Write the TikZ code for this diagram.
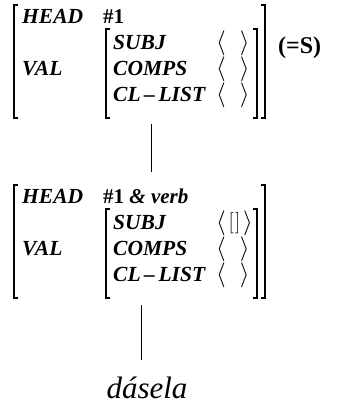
\documentclass[tikz,border=0pt]{standalone}
\usepackage{graphicx}
\usepackage{fontspec}
\setmainfont{Liberation Serif}
\begin{document}
\begin{tikzpicture}[x=1pt,y=-1pt,
  feat/.style={font=\fontsize{21.5}{21.5}\selectfont\bfseries\itshape, anchor=base west, inner sep=0pt},
  valtxt/.style={font=\fontsize{21}{21}\selectfont\bfseries, anchor=base west, inner sep=0pt},
  lst/.style={font=\fontsize{23}{23}\selectfont, anchor=base west, inner sep=0pt},
  brk/.style={line width=1.2pt},
  edge/.style={line width=0.9pt}]
\useasboundingbox (0,0) rectangle (353,407);
% ---------- top AVM ----------
\draw[brk] (18,5) -- (14,5) -- (14,118) -- (18,118);
\draw[brk] (261,5) -- (265,5) -- (265,118) -- (261,118);
\draw[brk] (110,29) -- (106,29) -- (106,118) -- (110,118);
\draw[brk] (253,29) -- (257,29) -- (257,118) -- (253,118);
\node[feat] (h1) at (22,23) {HEAD};
\node[valtxt] (n1) at (103,23) {\#1};
\node[feat] (v1) at (22,75) {VAL};
\node[feat] (s1) at (113,49) {SUBJ};
\node[feat] (c1) at (113,75) {COMPS};
\node[feat] (l1) at (113,101) {CL\,\textendash\,LIST};
\node[lst] (sv1) at (216,49) {$\langle\hspace{14pt}\rangle$};
\node[lst] (cv1) at (216,75) {$\langle\hspace{14pt}\rangle$};
\node[lst] (lv1) at (216,101) {$\langle\hspace{14pt}\rangle$};
\node[valtxt, font=\fontsize{24}{24}\selectfont\bfseries] (eq) at (278,53) {(=S)};
% ---------- bottom AVM ----------
\draw[brk] (18,185) -- (14,185) -- (14,298) -- (18,298);
\draw[brk] (261,185) -- (265,185) -- (265,298) -- (261,298);
\draw[brk] (110,209) -- (106,209) -- (106,298) -- (110,298);
\draw[brk] (253,209) -- (257,209) -- (257,298) -- (253,298);
\node[feat] (h2) at (22,203) {HEAD};
\node[valtxt] (n2) at (103,203) {\#1 \textit{\& verb}};
\node[feat] (v2) at (22,255) {VAL};
\node[feat] (s2) at (113,229) {SUBJ};
\node[feat] (c2) at (113,255) {COMPS};
\node[feat] (l2) at (113,281) {CL\,\textendash\,LIST};
\node[lst] (sv2) at (216,229) {$\langle\mkern2mu\vcenter{\hbox{\scalebox{0.85}{$[\mkern1mu]$}}}\mkern2mu\rangle$};
\node[lst] (cv2) at (216,255) {$\langle\hspace{14pt}\rangle$};
\node[lst] (lv2) at (216,281) {$\langle\hspace{14pt}\rangle$};
% ---------- word ----------
\node[font=\fontsize{31}{31}\selectfont\itshape, anchor=base, inner sep=0pt] (w) at (147,398) {dásela};
% ---------- connectors ----------
\coordinate (t1) at (151,124);
\coordinate (t2) at (151,172);
\coordinate (b1) at (141,305);
\coordinate (b2) at (141,360);
\draw[edge] (t1) -- (t2);
\draw[edge] (b1) -- (b2);
\end{tikzpicture}
\end{document}
